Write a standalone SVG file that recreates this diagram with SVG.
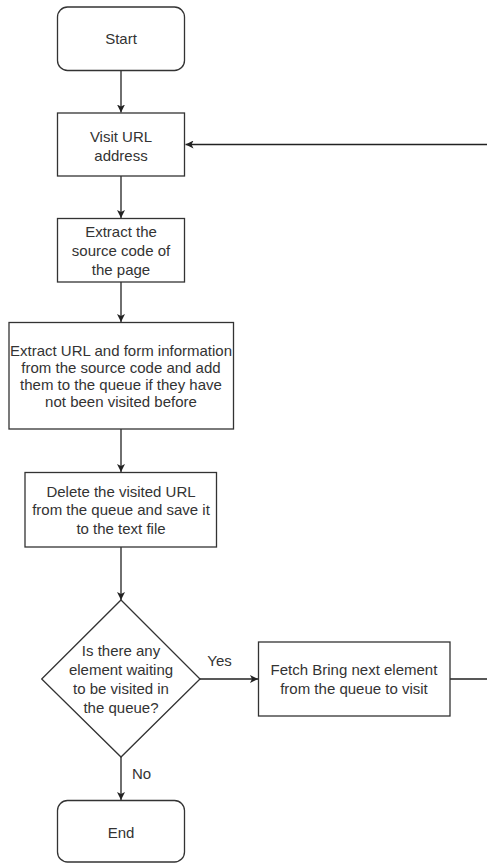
<svg xmlns="http://www.w3.org/2000/svg" width="487" height="863" viewBox="0 0 487 863">
<style>
.n{fill:#fff;stroke:#333;stroke-width:1.3}
.c{fill:none;stroke:#222;stroke-width:1.3}
text{font-family:"Liberation Sans",Arial,sans-serif;font-size:15px;fill:#333;text-anchor:middle}
</style>
<defs>
<marker id="a" viewBox="0 0 10 10" refX="10" refY="5" markerWidth="8" markerHeight="8" markerUnits="userSpaceOnUse" orient="auto">
<path d="M0,0 L10,5 L0,10 L2.5,5 Z" fill="#222"/>
</marker>
</defs>
<rect width="487" height="863" fill="#fff"/>
<g id="connectors">
<path class="c" d="M121,70.5 V112.5" marker-end="url(#a)"/>
<path class="c" d="M121,176 V218" marker-end="url(#a)"/>
<path class="c" d="M121,282 V322" marker-end="url(#a)"/>
<path class="c" d="M121,429 V472" marker-end="url(#a)"/>
<path class="c" d="M121,547 V600" marker-end="url(#a)"/>
<path class="c" d="M200,679 H258" marker-end="url(#a)"/>
<path class="c" d="M121,757 V800" marker-end="url(#a)"/>
<path class="c" d="M450,679 H495 V144.5 H185.5" marker-end="url(#a)"/>
<text x="219.5" y="666">Yes</text>
<text x="141.5" y="779">No</text>
</g>
<g id="start">
<rect class="n" x="57.5" y="7" width="127" height="63.5" rx="10"/>
<text x="121" y="44">Start</text>
</g>
<g id="visit">
<rect class="n" x="57.5" y="113" width="127" height="63"/>
<text x="121" y="141.5">Visit URL</text>
<text x="121" y="160.5">address</text>
</g>
<g id="extract">
<rect class="n" x="57.5" y="218.5" width="127" height="63.5"/>
<text x="121" y="237">Extract the</text>
<text x="121" y="256">source code of</text>
<text x="121" y="275">the page</text>
</g>
<g id="extractUrl">
<rect class="n" x="9" y="322.5" width="224.5" height="106.5"/>
<text x="121" y="356">Extract URL and form information</text>
<text x="121" y="373">from the source code and add</text>
<text x="121" y="390">them to the queue if they have</text>
<text x="121" y="407">not been visited before</text>
</g>
<g id="delete">
<rect class="n" x="25" y="472.5" width="191.5" height="74.5"/>
<text x="121" y="496.5">Delete the visited URL</text>
<text x="121" y="515">from the queue and save it</text>
<text x="121" y="534">to the text file</text>
</g>
<g id="decision">
<polygon class="n" points="121,600 200,679 121,757 41.7,679"/>
<text x="121" y="656">Is there any</text>
<text x="121" y="675">element waiting</text>
<text x="121" y="694">to be visited in</text>
<text x="121" y="713">the queue?</text>
</g>
<g id="fetch">
<rect class="n" x="258.5" y="642" width="191.5" height="74"/>
<text x="354" y="675">Fetch Bring next element</text>
<text x="354" y="694">from the queue to visit</text>
</g>
<g id="end">
<rect class="n" x="57.5" y="800.5" width="127" height="61.5" rx="10"/>
<text x="121" y="838">End</text>
</g>
</svg>
